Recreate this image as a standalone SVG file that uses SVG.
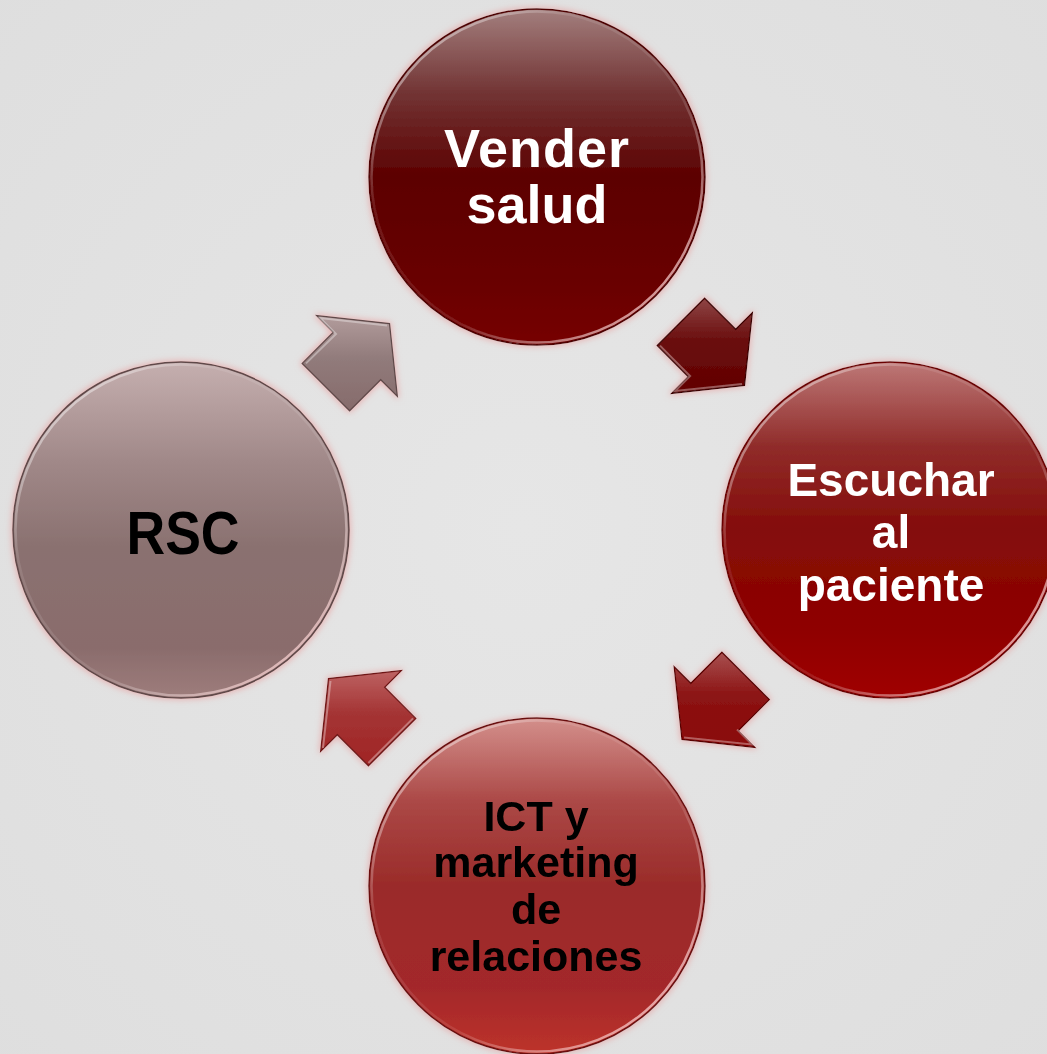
<svg xmlns="http://www.w3.org/2000/svg" width="1047" height="1054" viewBox="0 0 1047 1054">
<defs>
  <radialGradient id="bg" cx="0.5" cy="0.5" r="0.75">
    <stop offset="0" stop-color="#e6e6e6"/>
    <stop offset="1" stop-color="#dedede"/>
  </radialGradient>
  <linearGradient id="gTop" x1="0" y1="0" x2="0" y2="1">
    <stop offset="0" stop-color="#a37f7e"/>
    <stop offset="0.25" stop-color="#723434"/>
    <stop offset="0.5" stop-color="#5c0101"/>
    <stop offset="0.8" stop-color="#680000"/>
    <stop offset="1" stop-color="#760404"/>
  </linearGradient>
  <linearGradient id="gRight" x1="0" y1="0" x2="0" y2="1">
    <stop offset="0" stop-color="#bd7877"/>
    <stop offset="0.25" stop-color="#902c2a"/>
    <stop offset="0.5" stop-color="#840c09"/>
    <stop offset="0.8" stop-color="#8f0101"/>
    <stop offset="1" stop-color="#a00404"/>
  </linearGradient>
  <linearGradient id="gBottom" x1="0" y1="0" x2="0" y2="1">
    <stop offset="0" stop-color="#d38f8b"/>
    <stop offset="0.25" stop-color="#ab4846"/>
    <stop offset="0.5" stop-color="#9a2b29"/>
    <stop offset="0.8" stop-color="#a3282a"/>
    <stop offset="1" stop-color="#bd3229"/>
  </linearGradient>
  <linearGradient id="gLeft" x1="0" y1="0" x2="0" y2="1">
    <stop offset="0" stop-color="#c5afaf"/>
    <stop offset="0.3" stop-color="#a08888"/>
    <stop offset="0.55" stop-color="#8a7170"/>
    <stop offset="0.85" stop-color="#8a6c6c"/>
    <stop offset="1" stop-color="#9e7d7c"/>
  </linearGradient>
  <linearGradient id="aA1" x1="0" y1="0" x2="0" y2="1">
    <stop offset="0" stop-color="#b29c9c"/>
    <stop offset="0.45" stop-color="#917b7b"/>
    <stop offset="1" stop-color="#866b6b"/>
  </linearGradient>
  <linearGradient id="aA2" x1="0" y1="0" x2="0" y2="1">
    <stop offset="0" stop-color="#8e4545"/>
    <stop offset="0.45" stop-color="#6a0d0d"/>
    <stop offset="1" stop-color="#620000"/>
  </linearGradient>
  <linearGradient id="aA3" x1="0" y1="0" x2="0" y2="1">
    <stop offset="0" stop-color="#a85050"/>
    <stop offset="0.45" stop-color="#8c1414"/>
    <stop offset="1" stop-color="#8a0505"/>
  </linearGradient>
  <linearGradient id="aA4" x1="0" y1="0" x2="0" y2="1">
    <stop offset="0" stop-color="#bd6262"/>
    <stop offset="0.45" stop-color="#a43434"/>
    <stop offset="1" stop-color="#a02424"/>
  </linearGradient>
  <linearGradient id="rim" x1="0" y1="0" x2="1" y2="1">
    <stop offset="0" stop-color="#ffffff" stop-opacity="0.75"/>
    <stop offset="0.3" stop-color="#ffffff" stop-opacity="0.1"/>
    <stop offset="0.6" stop-color="#ffffff" stop-opacity="0.1"/>
    <stop offset="0.9" stop-color="#ffd0d0" stop-opacity="0.8"/>
    <stop offset="1" stop-color="#ffffff" stop-opacity="0.5"/>
  </linearGradient>
  <filter id="halo" x="-20%" y="-20%" width="140%" height="140%">
    <feMorphology in="SourceAlpha" operator="dilate" radius="1" result="d"/>
    <feGaussianBlur in="d" stdDeviation="3" result="b"/>
    <feFlood flood-color="#e8a0a0" flood-opacity="0.7"/>
    <feComposite operator="in" in2="b" result="h"/>
    <feMerge><feMergeNode in="h"/><feMergeNode in="SourceGraphic"/></feMerge>
  </filter>
</defs>
<style>
  .lbl { font-family: "Liberation Sans", Arial, sans-serif; font-weight: bold; text-anchor: middle; }
  .w { fill: #ffffff; }
  .k { fill: #000000; }
  .rim { fill: none; stroke: url(#rim); stroke-width: 2.5; }
  .arrow { stroke-width: 1.3; stroke-linejoin: miter; }
  .bevel { fill: none; stroke: #ffffff; stroke-opacity: 0.35; stroke-width: 2; }
</style>
<rect width="1047" height="1054" fill="url(#bg)"/>

<g id="connectors">
  <g id="arrow-rsc-vender" filter="url(#halo)">
    <path class="arrow" fill="url(#aA1)" stroke="#5e4a4a" d="M302.2,363.4 L333.3,332.3 L316.7,315.7 L389.5,323.5 L397.3,396.3 L380.7,379.7 L349.6,410.8 Z"/>
    <path class="bevel" d="M306,363.4 L336,334 L320,318 L387,325.5" stroke-opacity="0.55"/>
  </g>
  <g id="arrow-vender-escuchar" filter="url(#halo)">
    <path class="arrow" fill="url(#aA2)" stroke="#3c0000" d="M704.6,298.2 L735.7,329.3 L752.3,312.7 L744.5,385.5 L671.7,393.3 L688.3,376.7 L657.2,345.6 Z"/>
    <path class="bevel" d="M660,345.6 L690,376 L675,391 L742,384" stroke="#ff6a6a" stroke-opacity="0.5"/>
  </g>
  <g id="arrow-escuchar-ict" filter="url(#halo)">
    <path class="arrow" fill="url(#aA3)" stroke="#5a0000" d="M769.3,699.6 L738.2,730.7 L754.8,747.3 L682,739.5 L674.2,666.7 L690.8,683.3 L721.9,652.2 Z"/>
    <path class="bevel" d="M684,737.5 L752,744.5 L737,729.5" stroke="#ff4a4a" stroke-opacity="0.8" stroke-width="2.5"/>
  </g>
  <g id="arrow-ict-rsc" filter="url(#halo)">
    <path class="arrow" fill="url(#aA4)" stroke="#6e1414" d="M368.4,765.8 L337.3,734.7 L320.7,751.3 L328.5,678.5 L401.3,670.7 L384.7,687.3 L415.8,718.4 Z"/>
    <path class="bevel" d="M323,748 L330.5,681 M413,718.4 L368.4,763" stroke="#ff9090" stroke-opacity="0.7"/>
  </g>
</g>

<g id="node-vender" filter="url(#halo)">
  <circle cx="537" cy="177" r="168" fill="url(#gTop)" stroke="#4e0000" stroke-width="1.5"/>
  <circle class="rim" cx="537" cy="177" r="165.5"/>
  <text class="lbl w" font-size="54" x="537" y="167" letter-spacing="1">Vender</text>
  <text class="lbl w" font-size="54" x="537" y="223">salud</text>
</g>

<g id="node-escuchar" filter="url(#halo)">
  <circle cx="890" cy="530" r="168" fill="url(#gRight)" stroke="#6a0000" stroke-width="1.5"/>
  <circle class="rim" cx="890" cy="530" r="165.5"/>
  <text class="lbl w" font-size="46" x="891" y="496">Escuchar</text>
  <text class="lbl w" font-size="46" x="891" y="548">al</text>
  <text class="lbl w" font-size="46" x="891" y="601">paciente</text>
</g>

<g id="node-ict" filter="url(#halo)">
  <circle cx="537" cy="886" r="168" fill="url(#gBottom)" stroke="#6a1010" stroke-width="1.5"/>
  <circle class="rim" cx="537" cy="886" r="165.5"/>
  <text class="lbl k" font-size="43" x="536" y="831">ICT y</text>
  <text class="lbl k" font-size="43" x="536" y="877">marketing</text>
  <text class="lbl k" font-size="43" x="536" y="924">de</text>
  <text class="lbl k" font-size="43" x="536" y="971">relaciones</text>
</g>

<g id="node-rsc" filter="url(#halo)">
  <circle cx="181" cy="530" r="168" fill="url(#gLeft)" stroke="#5e4848" stroke-width="1.5"/>
  <circle class="rim" cx="181" cy="530" r="165.5"/>
  <text class="lbl k" font-size="62" x="183" y="554" textLength="113" lengthAdjust="spacingAndGlyphs">RSC</text>
</g>
</svg>
